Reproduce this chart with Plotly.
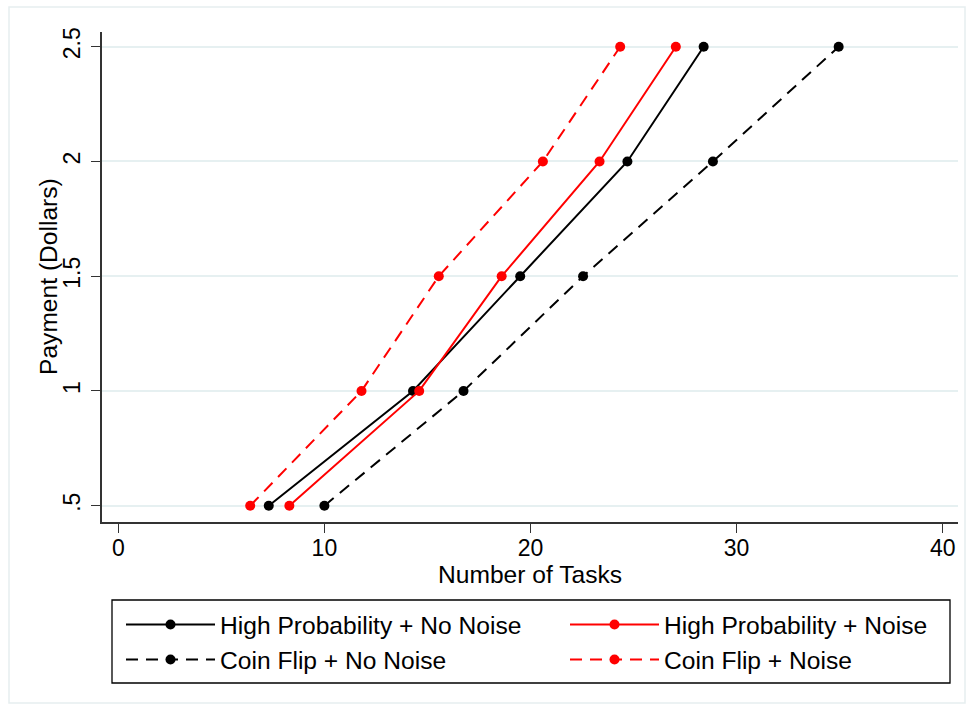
import plotly.graph_objects as go

payment = [0.5, 1.0, 1.5, 2.0, 2.5]
hp_no_noise = [7.3, 14.3, 19.5, 24.7, 28.4]
hp_noise = [8.3, 14.6, 18.6, 23.35, 27.05]
cf_no_noise = [10.0, 16.75, 22.55, 28.85, 34.95]
cf_noise = [6.4, 11.8, 15.55, 20.6, 24.35]

series_names = ["High Probability + No Noise", "High Probability + Noise",
                "Coin Flip + No Noise", "Coin Flip + Noise"]
series_vals = [hp_no_noise, hp_noise, cf_no_noise, cf_noise]
series_colors = ["black", "#ff0000", "black", "#ff0000"]
series_dash = ["solid", "solid", "12px,8px", "12px,8px"]
series_legend = ["legend", "legend2", "legend", "legend2"]

y_tickvals = [0.5, 1, 1.5, 2, 2.5]
y_ticktext = [".5", "1", "1.5", "2", "2.5"]
x_tickvals = [0, 10, 20, 30, 40]

FONT = "Liberation Sans, Arial, Helvetica, sans-serif"

fig = go.Figure()
for name, vals, col, dash, lg in zip(series_names, series_vals, series_colors,
                                     series_dash, series_legend):
    fig.add_trace(go.Scatter(
        x=vals, y=payment, mode="lines+markers", name=name, legend=lg,
        line=dict(color=col, width=2, dash=dash),
        marker=dict(color=col, size=10, symbol="circle"),
    ))

L, R, T, B = 102, 13, 32, 187
W, H = 971, 709
pw, ph = W - L - R, H - T - B

def px_x(p):
    return (p - L) / pw

def px_y(p):
    return (H - B - p) / ph

legend_common = dict(
    orientation="v", xanchor="left", yanchor="top",
    borderwidth=0, bgcolor="rgba(0,0,0,0)",
    itemwidth=89, font=dict(family=FONT, size=24.6, color="black"),
    tracegroupgap=0, traceorder="normal",
)

fig.update_layout(
    width=W, height=H,
    margin=dict(l=L, r=R, t=T, b=B, autoexpand=False),
    paper_bgcolor="white", plot_bgcolor="white",
    font=dict(family=FONT, size=23, color="black"),
    showlegend=True,
    legend=dict(x=px_x(121), y=px_y(602), **legend_common),
    legend2=dict(x=px_x(565), y=px_y(602), **legend_common),
    xaxis=dict(
        range=[-0.79, 40.74], tickvals=x_tickvals, ticks="outside", ticklen=9,
        tickwidth=1.3, tickcolor="#333", showline=True, linecolor="#333", linewidth=2,
        showgrid=False, zeroline=False, ticklabelstandoff=-5,
        title=dict(text="Number of Tasks", font=dict(size=24.6), standoff=2),
        tickfont=dict(size=23),
    ),
    yaxis=dict(
        range=[0.429, 2.564], tickvals=y_tickvals, ticktext=y_ticktext,
        ticks="outside", ticklen=9, tickwidth=1.3, tickcolor="#333",
        showline=True, linecolor="#333", linewidth=2,
        showgrid=True, gridcolor="#e6f0f1", gridwidth=2, zeroline=False,
        tickangle=-90, ticklabelstandoff=2,
        tickfont=dict(size=23),
    ),
    annotations=[dict(text="Payment (Dollars)", textangle=-90, showarrow=False,
                      xref="paper", yref="paper", x=px_x(48), y=px_y(277),
                      xanchor="center", yanchor="middle",
                      font=dict(family=FONT, size=24.6, color="black"))],
    shapes=[
        dict(type="rect", xref="paper", yref="paper",
             x0=px_x(9), x1=px_x(965), y0=px_y(703), y1=px_y(7),
             line=dict(color="#e6eef0", width=1.5), layer="below"),
        dict(type="rect", xref="paper", yref="paper",
             x0=px_x(112), x1=px_x(950), y0=px_y(683), y1=px_y(600),
             line=dict(color="black", width=1.3), fillcolor="rgba(0,0,0,0)"),
    ],
)

fig.write_html("out.html", config={"displayModeBar": False},
               post_script="document.body.style.margin='0px';")
